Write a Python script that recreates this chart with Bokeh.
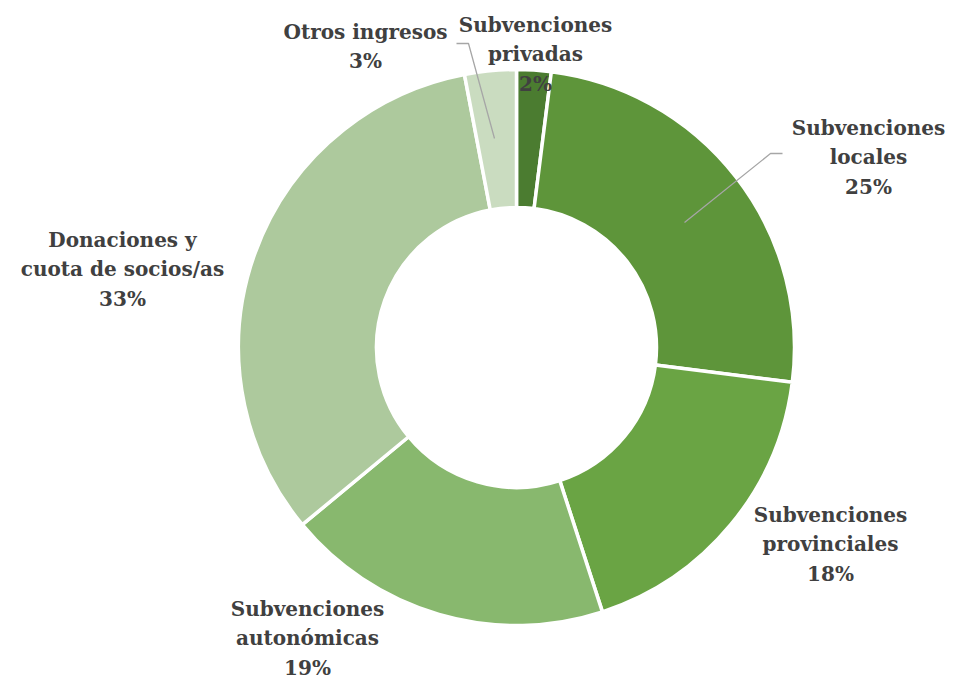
import math
from bokeh.plotting import figure
from bokeh.models import Range1d, ColumnDataSource
from bokeh.core.properties import value
from bokeh.embed import file_html
from bokeh.resources import INLINE

categories = ["Subvenciones\nprivadas", "Subvenciones\nlocales", "Subvenciones\nprovinciales",
              "Subvenciones\nautonómicas", "Donaciones y\ncuota de socios/as", "Otros ingresos"]
percents = [2, 25, 18, 19, 33, 3]
colors = ["#4b7c30", "#5e953a", "#6aa444", "#88b86e", "#adc99d", "#cadcc0"]

# layout (screen pixels)
CX, CY = 516, 347
R_OUT, R_IN = 278, 140
label_pos = [(535, 54), (868, 157), (830, 544), (307, 638), (122, 269), (365, 46)]

W, H = 957, 679
def fy(py):
    return H - py

total = sum(percents)
starts, ends = [], []
cum = 0
for v in percents:
    starts.append(math.pi / 2 - 2 * math.pi * cum / total)
    cum += v
    ends.append(math.pi / 2 - 2 * math.pi * cum / total)

p = figure(width=W, height=H, output_backend="svg", toolbar_location=None,
           x_range=Range1d(0, W), y_range=Range1d(0, H), min_border=0)
p.axis.visible = False
p.grid.visible = False
p.outline_line_color = None
p.background_fill_color = "white"

src = ColumnDataSource(dict(x=[CX] * len(percents), y=[fy(CY)] * len(percents),
                            start=starts, end=ends, color=colors))
p.annular_wedge(x="x", y="y", inner_radius=R_IN, outer_radius=R_OUT,
                start_angle="start", end_angle="end", direction="clock",
                fill_color="color", line_color="white", line_width=3.5, source=src)

# leader lines
p.line(x=[456, 468, 494], y=[fy(43), fy(43), fy(138)], line_color="#a6a6a6", line_width=1.3)
p.line(x=[782, 770, 684], y=[fy(153), fy(153), fy(222)], line_color="#a6a6a6", line_width=1.3)

texts = [f"{c}\n{v}%" for c, v in zip(categories, percents)]
lx = [q[0] for q in label_pos]
ly = [fy(q[1]) for q in label_pos]
p.text(x=lx, y=ly, text=texts, text_align="center", text_baseline="middle",
       text_font=value("DejaVu Serif"), text_font_style="bold", text_font_size="20px",
       text_color="#404040", text_line_height=1.22)

open("out.html", "w").write(file_html(p, INLINE))
